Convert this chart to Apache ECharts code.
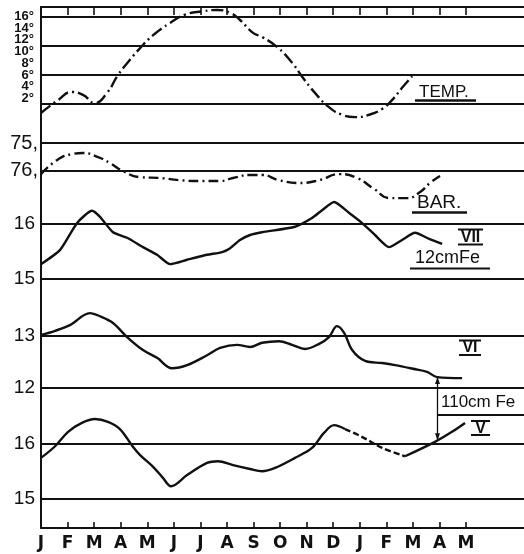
<!DOCTYPE html>
<html><head><meta charset="utf-8">
<script src="https://cdn.jsdelivr.net/npm/echarts@6/dist/echarts.min.js"></script>
<style>html,body{margin:0;padding:0;background:#fff}#c{width:524px;height:554px}</style>
</head><body><div id="c"></div>
<script>
// ---- categories / ticks ----
const months = ['J','F','M','A','M','J','J','A','S','O','N','D','J','F','M','A','M'];
const monthLabelPos = [0,1,2,3,4,5,6,7,8,9,10,11,12,13,14,15,16];
const monthTickPos = [1,2,3,4,5,6,7,8,9,10,11,12,13,14,15,16];

// ---- tick labels ----
const tempTicksA = [16,12,8,4];
const tempTicksB = [14,10,6,2];
const tempLines = [16,11,6,1];
const barTicks = [75,76];
const viiTicks = [16,15];
const viTicks = [13,12];
const vTicks = [16,15];

// ---- series (month index, value) ----
const tempMonth = [0,0.64,1.17,1.58,2.03,2.48,2.90,3.35,3.73,4.22,4.86,5.42,6.10,6.63,7.12,7.49,7.98,8.32,8.88,9.45,9.83,10.32,10.84,11.33,11.82,12.35,12.84,13.21,13.59,13.97];
const tempValue = [-0.5,1.7,3.1,2.6,1.2,2.9,6.0,8.6,10.6,12.8,14.9,16.3,16.9,17.1,16.6,15.4,13.2,12.5,10.8,8.1,5.7,2.9,0.5,-0.8,-1.2,-0.8,0.2,1.7,3.8,5.8];

const barMonth = [0,0.60,1.17,1.58,2.15,2.60,3.09,3.73,4.48,5.23,5.99,6.74,7.23,7.87,8.32,8.96,9.71,10.47,11.22,11.90,12.50,13.14,13.78,14.27,14.64,15.02];
const barValue = [76.13,75.62,75.40,75.36,75.51,75.73,76.02,76.24,76.27,76.35,76.38,76.38,76.27,76.16,76.16,76.35,76.45,76.35,76.13,76.27,76.64,77.0,77.0,76.78,76.45,76.2];

const viiMonth = [0,0.72,1.36,1.92,2.22,2.71,3.24,3.84,4.37,4.86,5.50,6.25,6.82,7.12,7.49,7.87,8.32,9.56,10.20,10.58,11.03,11.60,12.08,12.57,13.10,13.59,14.08,14.61,15.10];
const viiValue = [15.27,15.53,16.02,16.24,16.13,15.85,15.75,15.58,15.44,15.27,15.35,15.44,15.49,15.56,15.71,15.80,15.85,15.95,16.11,16.25,16.40,16.20,16.02,15.80,15.58,15.71,15.84,15.73,15.64];

const viMonth = [0,0.53,1.09,1.84,2.22,2.71,3.24,3.84,4.37,4.93,5.50,6.25,6.74,7.38,7.87,8.32,8.96,9.45,9.94,10.47,10.84,11.14,11.41,11.71,12.20,12.84,13.33,14.00,14.53,14.91,15.85];
const viValue = [13.02,13.10,13.21,13.44,13.38,13.25,12.98,12.73,12.58,12.38,12.44,12.63,12.77,12.83,12.79,12.87,12.90,12.83,12.75,12.85,12.98,13.19,13.06,12.73,12.52,12.48,12.44,12.37,12.31,12.21,12.19];

const vMonth = [0,0.53,1.02,1.54,2.03,2.52,2.97,3.46,3.73,4.22,4.59,4.89,5.50,6.25,6.66,7.23,7.87,8.32,8.81,9.56,10.20,10.65,11.03,11.44,12.08,12.84,13.70,14.83,15.47,15.96];
const vValue = [15.74,15.95,16.21,16.37,16.44,16.39,16.26,15.94,15.79,15.58,15.38,15.23,15.43,15.65,15.68,15.61,15.54,15.50,15.56,15.74,15.92,16.19,16.33,16.26,16.12,15.92,15.77,16.03,16.21,16.37];
const vDashFrom = 23, vDashTo = 26;   // interrupted (dashed) stretch of curve V

// arrow between VI and V (110 cm Fe)
const arrowMonth = 14.91, arrowTopVI = 12.21, arrowBottomV = 16.06;

const INK = '#111';
const pairs = (xs, ys) => xs.map((x, i) => [x, ys[i]]);
const gridLines = vals => ({
  silent: true, symbol: ['none','none'], label: {show: false}, animation: false,
  lineStyle: {color: INK, width: 1.8, type: 'solid', opacity: 1},
  emphasis: {disabled: true},
  data: vals.map(v => ({yAxis: v}))
});
const curve = (yIdx, data, type, smooth, mk) => ({
  type: 'line', xAxisIndex: 0, yAxisIndex: yIdx, data: data, smooth: smooth,
  symbol: 'none', silent: true, animation: false,
  lineStyle: {color: INK, width: 2.4, type: type},
  markLine: mk
});
const leftFont = {color: INK, fontFamily: 'Liberation Sans, Arial, sans-serif', fontSize: 19};
const tempFont = {color: INK, fontFamily: 'Liberation Sans, Arial, sans-serif', fontWeight: 'bold', fontSize: 13, margin: 7};
const yAx = (min, max, inverse, ticks, fmt, lbl, showLine) => ({
  type: 'value', position: 'left', min: min, max: max, inverse: inverse,
  axisLine: {show: !!showLine, onZero: false, lineStyle: {color: INK, width: 2}},
  axisTick: {show: false}, splitLine: {show: false},
  axisLabel: Object.assign({customValues: ticks, formatter: fmt, margin: 6,
                            showMinLabel: true, showMaxLabel: true, hideOverlap: false}, lbl)
});

const chart = echarts.init(document.getElementById('c'), null, {renderer: 'canvas'});
const vPairs = pairs(vMonth, vValue);
const romanFont = 'bold 16px "Liberation Sans", Arial';

const annotations = [
  {type: 'text', x: 419, y: 92, style: {text: 'TEMP.', font: '17px "Liberation Sans", Arial', fill: INK, align: 'left', verticalAlign: 'middle'}},
  {type: 'line', shape: {x1: 415, y1: 100.5, x2: 476, y2: 100.5}, style: {stroke: INK, lineWidth: 2.5}},
  {type: 'text', x: 417, y: 203, style: {text: 'BAR.', font: '19px "Liberation Sans", Arial', fill: INK, align: 'left', verticalAlign: 'middle'}},
  {type: 'line', shape: {x1: 412, y1: 212.5, x2: 467, y2: 212.5}, style: {stroke: INK, lineWidth: 2.5}},
  {type: 'text', x: 470.5, y: 237.5, style: {text: 'VII', font: romanFont, fill: INK, align: 'center', verticalAlign: 'middle'}},
  {type: 'line', shape: {x1: 458, y1: 229.5, x2: 483, y2: 229.5}, style: {stroke: INK, lineWidth: 2}},
  {type: 'line', shape: {x1: 458, y1: 244.5, x2: 483, y2: 244.5}, style: {stroke: INK, lineWidth: 2}},
  {type: 'text', x: 415, y: 258, style: {text: '12cmFe', font: '18px "Liberation Sans", Arial', fill: INK, align: 'left', verticalAlign: 'middle'}},
  {type: 'line', shape: {x1: 410, y1: 268.5, x2: 490, y2: 268.5}, style: {stroke: INK, lineWidth: 2}},
  {type: 'text', x: 470, y: 348, style: {text: 'VI', font: romanFont, fill: INK, align: 'center', verticalAlign: 'middle'}},
  {type: 'line', shape: {x1: 459, y1: 340.5, x2: 481, y2: 340.5}, style: {stroke: INK, lineWidth: 2}},
  {type: 'line', shape: {x1: 459, y1: 355, x2: 481, y2: 355}, style: {stroke: INK, lineWidth: 2}},
  {type: 'text', x: 441, y: 402, style: {text: '110cm Fe', font: '17px "Liberation Sans", Arial', fill: INK, align: 'left', verticalAlign: 'middle'}},
  {type: 'line', shape: {x1: 438, y1: 415, x2: 524, y2: 415}, style: {stroke: INK, lineWidth: 2}},
  {type: 'text', x: 480.5, y: 428.5, style: {text: 'V', font: romanFont, fill: INK, align: 'center', verticalAlign: 'middle'}},
  {type: 'line', shape: {x1: 471, y1: 421, x2: 490, y2: 421}, style: {stroke: INK, lineWidth: 2}},
  {type: 'line', shape: {x1: 471, y1: 435, x2: 490, y2: 435}, style: {stroke: INK, lineWidth: 2}}
];

const option = {
  backgroundColor: '#fff',
  animation: false,
  grid: {left: 41, right: 0, top: 7, bottom: 26, containLabel: false, outerBoundsMode: 'none'},
  xAxis: [
    {type: 'value', position: 'bottom', min: 0, max: 18.18,
     axisLine: {onZero: false, lineStyle: {color: INK, width: 2}},
     axisTick: {inside: true, length: 6, customValues: monthTickPos, lineStyle: {color: INK, width: 1.6}},
     axisLabel: {customValues: monthLabelPos, formatter: v => months[Math.round(v)], color: INK,
                 fontFamily: 'DejaVu Sans, sans-serif', fontWeight: 'bold', fontSize: 17, margin: 7,
                 showMinLabel: true, showMaxLabel: true},
     splitLine: {show: false}},
    {type: 'value', position: 'top', min: 0, max: 18.18,
     axisLine: {onZero: false, lineStyle: {color: INK, width: 2}},
     axisTick: {inside: true, length: 8, customValues: monthTickPos, lineStyle: {color: INK, width: 1.6}},
     axisLabel: {show: false}, splitLine: {show: false}}
  ],
  yAxis: [
    yAx(-71.44, 17.62, false, tempTicksA, v => v + '°', tempFont, true),
    yAx(70.05, 89.0, true, barTicks, v => v + ',', Object.assign({}, leftFont, {fontSize: 20, margin: 3})),
    yAx(10.473, 19.945, false, viiTicks, v => String(v), leftFont),
    yAx(9.308, 19.327, false, viTicks, v => String(v), leftFont),
    yAx(14.477, 23.865, false, vTicks, v => String(v), leftFont),
    yAx(-71.44, 17.62, false, tempTicksB, v => v + '°', tempFont)
  ],
  series: [
    curve(0, pairs(tempMonth, tempValue), [12,4,2,4], 0.5, gridLines(tempLines)),
    curve(1, pairs(barMonth, barValue), [10,4,2,4], 0.5, gridLines(barTicks)),
    curve(2, pairs(viiMonth, viiValue), 'solid', 0.2, gridLines(viiTicks)),
    curve(3, pairs(viMonth, viValue), 'solid', 0.35, gridLines(viTicks)),
    curve(4, vPairs.slice(0, vDashFrom + 1), 'solid', 0.35, gridLines(vTicks)),
    curve(4, vPairs.slice(vDashFrom, vDashTo + 1), [6,3], 0.35),
    curve(4, vPairs.slice(vDashTo), 'solid', 0.35)
  ],
  graphic: annotations
};
chart.setOption(option);

// double-headed arrow placed through the chart's own scales
const pTop = chart.convertToPixel({seriesIndex: 3}, [arrowMonth, arrowTopVI]);
const pBot = chart.convertToPixel({seriesIndex: 4}, [arrowMonth, arrowBottomV]);
const ax = Math.round(pTop[0]) + 0.5;
const arrowEls = [
  {type: 'line', shape: {x1: ax, y1: pTop[1], x2: ax, y2: pBot[1]}, style: {stroke: INK, lineWidth: 1.3}},
  {type: 'polygon', shape: {points: [[ax - 2.5, pTop[1] + 7], [ax, pTop[1]], [ax + 2.5, pTop[1] + 7]]}, style: {fill: INK}},
  {type: 'polygon', shape: {points: [[ax - 2.5, pBot[1] - 7], [ax, pBot[1]], [ax + 2.5, pBot[1] - 7]]}, style: {fill: INK}}
];
chart.setOption({graphic: annotations.concat(arrowEls)});
</script>
</body></html>
